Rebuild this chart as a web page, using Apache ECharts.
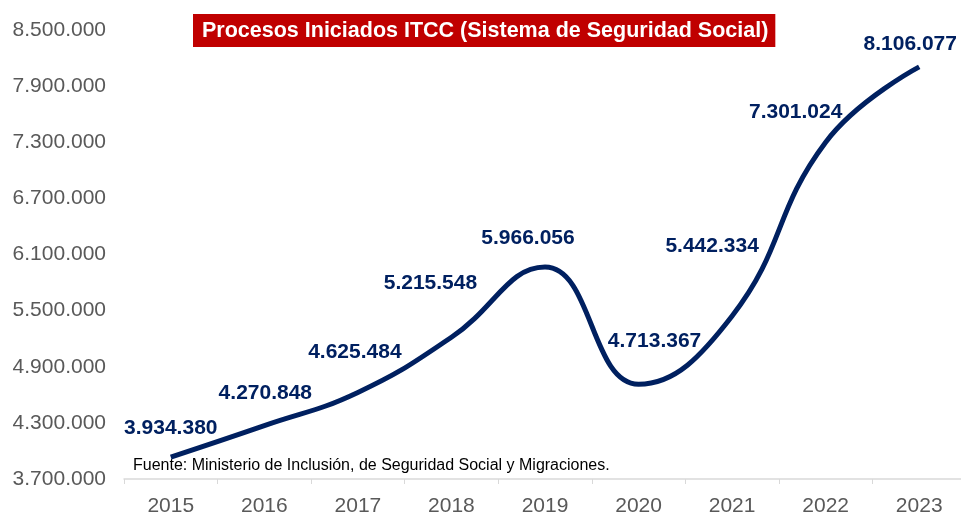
<!DOCTYPE html>
<html><head><meta charset="utf-8">
<script src="https://cdn.jsdelivr.net/npm/echarts@6/dist/echarts.min.js"></script>
<style>html,body{margin:0;padding:0;background:#fff}#c{width:961px;height:512px}</style>
</head><body><div id="c"></div>
<script>
const years = ['2015','2016','2017','2018','2019','2020','2021','2022','2023'];
const procesos = [3934380, 4270848, 4625484, 5215548, 5966056, 4713367, 5442334, 7301024, 8106077];
const yTicks = [3700000, 4300000, 4900000, 5500000, 6100000, 6700000, 7300000, 7900000, 8500000];
const labelOffsets = [[0,-18],[1,-21],[-3,-29],[-21,-43],[-17,-18],[16,-32],[-20,-59],[-30,-19],[-9,-12]];

const fmt = v => String(Math.round(v)).replace(/\B(?=(\d{3})+(?!\d))/g, '.');
const chart = echarts.init(document.getElementById('c'));
chart.setOption({
  animation: false,
  title: {
    text: 'Procesos Iniciados ITCC (Sistema de Seguridad Social)',
    left: 193, top: 14,
    backgroundColor: '#C00000',
    padding: [6, 7, 5, 9],
    textStyle: {color: '#fff', fontSize: 21.5, fontWeight: 'bold', fontFamily: 'Liberation Sans', lineHeight: 22}
  },
  graphic: [{
    type: 'text', left: 133, top: 458,
    style: {text: 'Fuente: Ministerio de Inclusión, de Seguridad Social y Migraciones.', fill: '#000', font: '16px "Liberation Sans"'}
  }],
  grid: {left: 124, top: 30, width: 842, bottom: 33, containLabel: false, outerBoundsMode: 'none'},
  xAxis: {
    type: 'category', data: years, boundaryGap: true,
    axisLine: {lineStyle: {color: '#d9d9d9', width: 1.5}},
    axisTick: {show: true, length: 5, lineStyle: {color: '#d9d9d9'}},
    axisLabel: {color: '#595959', fontSize: 21, fontFamily: 'Liberation Sans', margin: 17}
  },
  yAxis: {
    type: 'value', min: 3700000, max: 8500000,
    axisLine: {show: false}, axisTick: {show: false}, splitLine: {show: false},
    axisLabel: {customValues: yTicks, formatter: fmt, color: '#595959', fontSize: 21, fontFamily: 'Liberation Sans', margin: 18}
  },
  series: [{
    type: 'line', data: procesos.map((v, i) => ({
      value: v,
      label: {offset: labelOffsets[i]}
    })),
    smooth: 0.45, symbol: 'circle', symbolSize: 1, showSymbol: true,
    itemStyle: {color: 'rgba(0,32,96,0)'},
    lineStyle: {color: '#002060', width: 5},
    label: {show: true, position: 'top', distance: 0, formatter: p => fmt(p.value), color: '#002060', fontSize: 21, fontWeight: 'bold', fontFamily: 'Liberation Sans'}
  }]
});
</script></body></html>
